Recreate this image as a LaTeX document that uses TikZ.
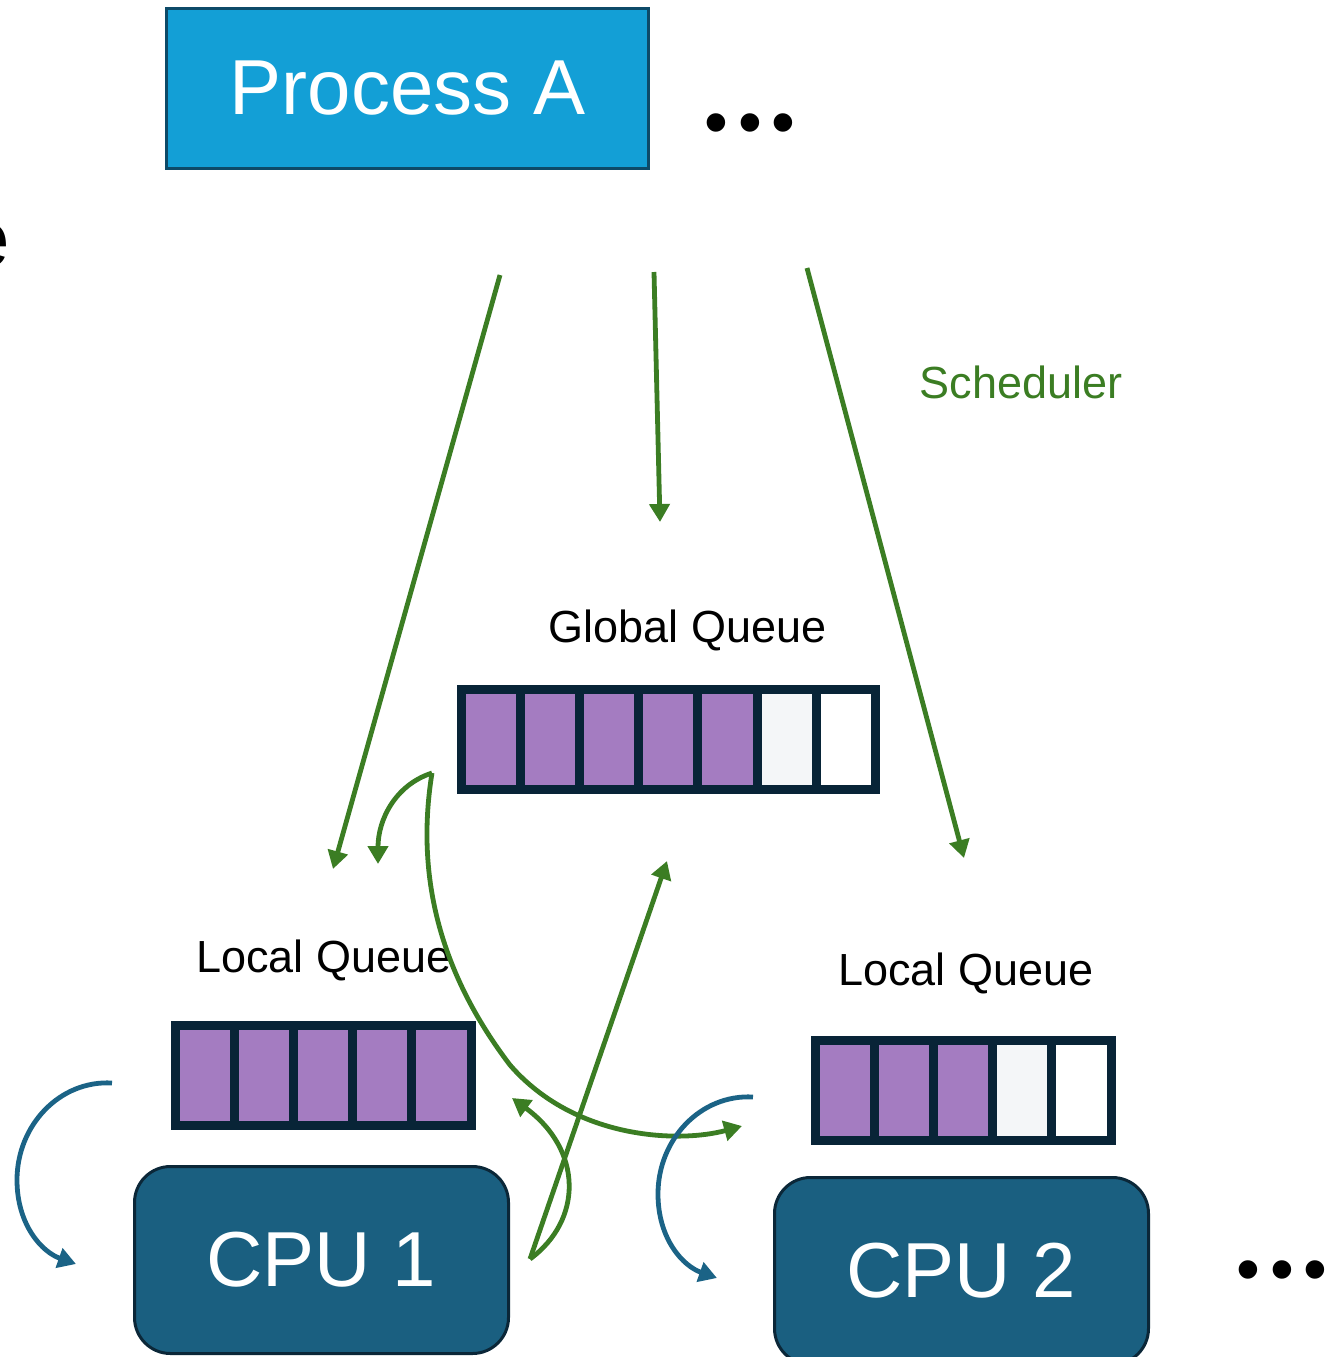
\documentclass[tikz,border=0pt]{standalone}
\usepackage{fontspec}
\setmainfont{Liberation Sans}
\usetikzlibrary{arrows.meta}

\definecolor{procfill}{HTML}{139FD6}
\definecolor{procedge}{HTML}{0D4A68}
\definecolor{cpufill}{HTML}{1A5F80}
\definecolor{cpuedge}{HTML}{0B2738}
\definecolor{qedge}{HTML}{082437}
\definecolor{qpurple}{HTML}{A47CC1}
\definecolor{qlight}{HTML}{F4F6F8}
\definecolor{schedgreen}{HTML}{3B7D23}
\definecolor{loopblue}{HTML}{1B6386}

\tikzset{every picture/.style={line width=0.75pt}}
\tikzset{
  qcell/.style={draw=qedge, line width=4.5pt, minimum width=29.6pt, minimum height=50pt, inner sep=0pt, outer sep=0pt},
  cpubox/.style={draw=cpuedge, fill=cpufill, line width=1.5pt, rounded corners=18pt, minimum width=187pt, minimum height=93.5pt, text=white, font=\fontsize{39}{46}\selectfont},
  qlabel/.style={anchor=base, inner sep=0.75pt, font=\fontsize{22.5}{27}\selectfont},
  dotlabel/.style={anchor=base, inner sep=0pt, font=\fontsize{34}{40}\selectfont},
  sched/.style={draw=schedgreen, line width=2.4pt, -{Triangle[length=9pt,width=10pt]}},
  cpuloop/.style={draw=loopblue, line width=2.4pt, -{Triangle[length=9pt,width=10pt]}},
}

\begin{document}
\begin{tikzpicture}[x=0.5pt,y=0.5pt,yscale=-1]
%set diagram to the size of the reference
\useasboundingbox (0,0) rectangle (1327,1357);

%Shape: Rectangle [process]
\node [draw=procedge, fill=procfill, line width=1.75pt, minimum width=241pt, minimum height=80pt, text=white, font=\fontsize{39}{46}\selectfont] (procA) at (407.5,88.5) {Process A};
% Text Node
\node [dotlabel] (topdots) at (750,145) {•\hspace{5pt}•\hspace{5pt}•};
% Text Node
\node [anchor=base, inner sep=0pt, font=\fontsize{40}{48}\selectfont] (cutlbl) at (-12,266) {e};
% Text Node
\node [qlabel, text=schedgreen] (schedlbl) at (1021,398) {Scheduler};

%Global queue
\node [qlabel] (gqlbl) at (687.5,642) {Global Queue};
\foreach \c [count=\i] in {qpurple,qpurple,qpurple,qpurple,qpurple,qlight,white}
  \node [qcell, fill=\c] (gq\i) at ({461+59.2*(\i-0.5)},739.25) {};

%Local queues
\node [qlabel] (lqlbl1) at (324,972) {Local Queue};
\foreach \c [count=\i] in {qpurple,qpurple,qpurple,qpurple,qpurple}
  \node [qcell, fill=\c] (lq\i) at ({175+59.2*(\i-0.5)},1075.5) {};
\node [qlabel] (lqlbl2) at (966,985) {Local Queue};
\foreach \c [count=\i] in {qpurple,qpurple,qpurple,qlight,white}
  \node [qcell, fill=\c] (rq\i) at ({815+59.2*(\i-0.5)},1090) {};

%Shape: Rounded Rect [cpus]
\node [cpubox] (cpu1) at (321.5,1260) {CPU 1};
\node [cpubox] (cpu2) at (961.5,1271) {CPU 2};
% Text Node
\node [dotlabel] (cpudots) at (1282,1292) {•\hspace{5pt}•\hspace{5pt}•};

%Straight Lines [scheduler]
\coordinate (s1) at (500,275);
\coordinate (e1) at (333,869);
\coordinate (s2) at (654,272);
\coordinate (e2) at (660,522);
\coordinate (s3) at (807,268);
\coordinate (e3) at (964,858);
\draw [sched] (s1) -- (e1);
\draw [sched] (s2) -- (e2);
\draw [sched] (s3) -- (e3);

%Curve Lines [global to local]
\coordinate (gqout) at (432,773);
\coordinate (lq1in) at (378,864);
\coordinate (rqin) at (742,1126);
\draw [sched] (gqout) .. controls (395,785) and (378,820) .. (lq1in);
\draw [sched] (gqout) .. controls (418,860) and (430,960) .. (510,1065) .. controls (575,1140) and (680,1143) .. (rqin);

%Curve Lines [cpu 1 back]
\coordinate (cpu1out) at (530,1259);
\coordinate (lq1back) at (512,1098);
\coordinate (gqin) at (667,861);
\draw [sched] (cpu1out) .. controls (583,1220) and (583,1150) .. (lq1back);
\draw [sched] (cpu1out) -- (gqin);

%Curve Lines [queue to cpu]
\coordinate (lq1deq) at (112,1083);
\coordinate (cpu1in) at (76,1264);
\coordinate (rqdeq) at (753,1097);
\coordinate (cpu2in) at (717,1278);
\draw [cpuloop] (lq1deq) .. controls (60,1080) and (17,1125) .. (17,1180) .. controls (17,1225) and (42,1252) .. (cpu1in);
\draw [cpuloop] (rqdeq) .. controls (701,1094) and (658,1139) .. (658,1194) .. controls (658,1239) and (683,1266) .. (cpu2in);

\end{tikzpicture}
\end{document}
